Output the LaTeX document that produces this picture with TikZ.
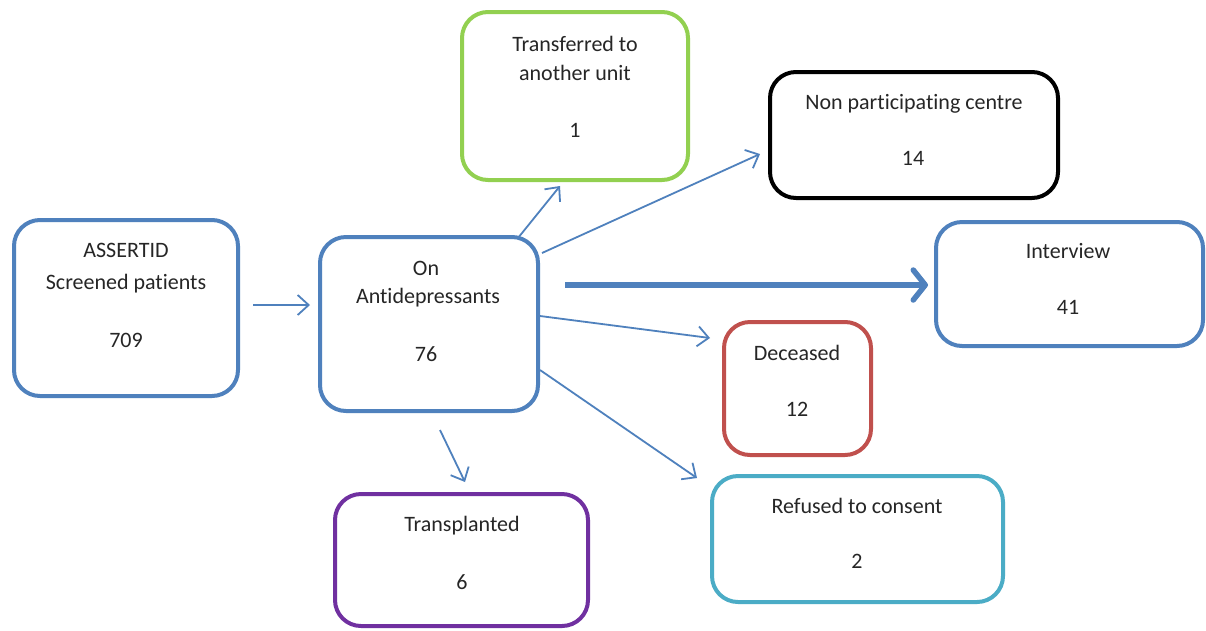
\documentclass[tikz,border=0pt]{standalone}
\usepackage{fontspec}
\setmainfont[Ligatures=NoCommon]{Carlito}
\usetikzlibrary{calc,arrows.meta}
\definecolor{oblue}{HTML}{4F81BD}
\definecolor{ogreen}{HTML}{92D050}
\definecolor{ored}{HTML}{C0504D}
\definecolor{opurple}{HTML}{7030A0}
\definecolor{ocyan}{HTML}{4BACC6}
\definecolor{otext}{HTML}{262626}
\tikzset{
  box/.style={draw=#1, line width=4pt, rounded corners=26pt, fill=white, inner sep=0pt},
  txt/.style={text=otext, font=\fontsize{22}{26}\selectfont, inner sep=0pt, anchor=center},
  arr/.style={draw=oblue, line width=1.8pt, -{Straight Barb[length=11pt,width=20pt,line width=1.8pt]}},
  bigarr/.style={draw=oblue, line width=6pt, -{Straight Barb[length=12pt,width=30pt,line width=5.5pt,round]}}
}
\begin{document}
\begin{tikzpicture}[x=1pt,y=-1pt]
\useasboundingbox[fill=white] (0,0) rectangle (1206,630);
% boxes
\node[box=oblue, minimum width=224pt, minimum height=176pt] (scr) at (126,308) {};
\node[box=oblue, minimum width=218pt, minimum height=174pt] (on) at (429,324) {};
\node[box=ogreen, minimum width=226pt, minimum height=168pt] (tr) at (575,96) {};
\node[box=black, minimum width=288pt, minimum height=126pt] (np) at (914,135) {};
\node[box=oblue, minimum width=267pt, minimum height=124pt] (iv) at (1069.5,284) {};
\node[box=ored, minimum width=147pt, minimum height=133pt] (de) at (797.5,388.5) {};
\node[box=ocyan, minimum width=291pt, minimum height=126pt] (rf) at (857.5,539) {};
\node[box=opurple, minimum width=253pt, minimum height=132pt] (tp) at (461.5,560) {};
% texts
\node[txt] (t1a) at (126,250) {ASSERTID};
\node[txt] (t1b) at (126,284) {Screened patients};
\node[txt] (t1c) at (126,340) {709};
\node[txt] (t2a) at (426,268) {On};
\node[txt] (t2b) at (428,298) {Antidepressants};
\node[txt] (t2c) at (426,354) {76};
\node[txt] (t3a) at (575,44) {Transferred to};
\node[txt] (t3b) at (575,73) {another unit};
\node[txt] (t3c) at (575,130) {1};
\node[txt] (t4a) at (914,104) {Non participating centre};
\node[txt] (t4b) at (913,158) {14};
\node[txt] (t5a) at (1068,251) {Interview};
\node[txt] (t5b) at (1068,307) {41};
\node[txt] (t6a) at (797,353) {Deceased};
\node[txt] (t6b) at (797,409) {12};
\node[txt] (t7a) at (857,506) {Refused to consent};
\node[txt] (t7b) at (857,561) {2};
\node[txt] (t8a) at (462,526) {Transplanted};
\node[txt] (t8b) at (462,582) {6};
% connectors
\draw[arr] ($(scr.east)+(13,-3)$) -- ($(on.west)+(-8,-19)$);
\draw[arr] ($(on.north)+(89,3)$) -- ($(tr.south)+(-15,4)$);
\draw[arr] ($(on.east)+(2,-71)$) -- ($(np.west)+(-8,19)$);
\draw[bigarr] ($(on.east)+(25,-39)$) -- ($(iv.west)+(-6,1)$);
\draw[arr] ($(on.east)+(0,-8)$) -- ($(de.west)+(-12,-50.5)$);
\draw[arr] ($(on.east)+(0,46)$) -- ($(rf.west)+(-13,-61)$);
\draw[arr] ($(on.south)+(11,17)$) -- ($(tp.north)+(3.5,-10)$);
\end{tikzpicture}
\end{document}
